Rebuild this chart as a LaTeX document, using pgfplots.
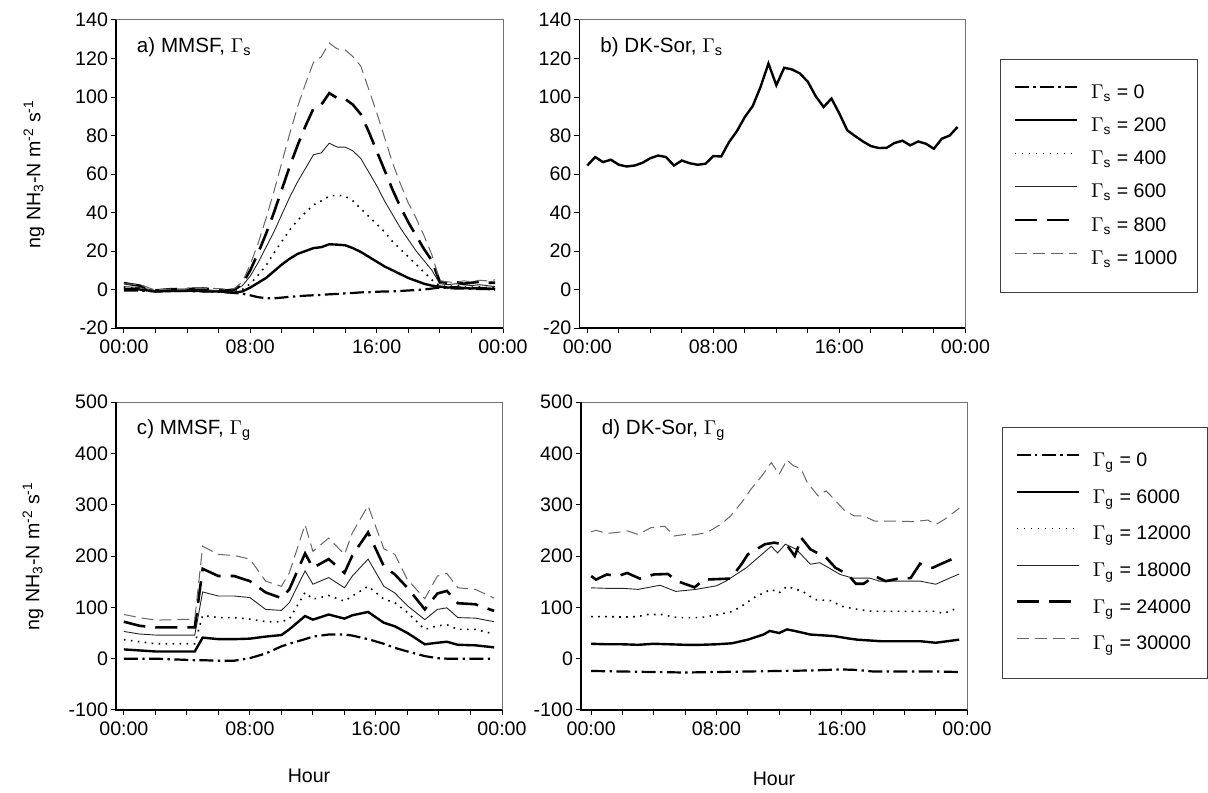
\documentclass[border=0pt]{standalone}
\usepackage{fontspec}
\setmainfont{Liberation Sans}
\usepackage{pgfplots}
\pgfplotsset{compat=1.18}
\usepackage{pgfplotstable}

% panel a: MMSF, Gamma_s
\pgfplotstableread{
t     s0    s200  s400  s600  s800  s1000
0     -0.5  0.3   1.2   1.5   3.3   3.0
1     -0.5  0.0   0.5   1.0   2.0   2.5
2     -1.0  -1.0  -0.8  -0.5  -0.5  -0.3
3     -0.8  -0.8  -0.5  -0.3  0.2   0.3
4     -0.8  -0.6  -0.4  -0.2  0.3   0.4
5     -1.0  -0.8  -0.5  -0.2  0.5   0.6
6     -1.2  -1.0  -0.8  -0.5  0.0   0.5
6.5   -1.5  -1.3  -1.2  -1.0  -0.5  0.0
7     -1.8  -1.6  -1.2  -0.5  0.0   0.5
7.5   -2.2  -1.0  0.0   2.0   3.0   4.0
8     -3.0  1.0   3.0   7.0   10    13
8.5   -4.0  3.5   7.5   14    19    24
9     -4.5  6.0   12.5  22    29    37
9.5   -4.6  9.5   19    30    40    51
10    -4.2  13    25    39    52    66
10.5  -3.8  16    31    48    64    81
11    -3.5  18.5  36    56    75    95
11.5  -3.2  20    40    63    85    107
12    -3.0  21.5  44    70    94    118
12.5  -2.8  22    46    71    96    121
13    -2.5  23.5  48.5  76    102   128
13.5  -2.3  23.3  49    74    99.5  125
14    -2.0  23    48.5  74    99    124.5
14.5  -1.8  21.5  46    72    96    121
15    -1.5  19.5  42    68    91    116
15.5  -1.4  17    38    61    82    104
16    -1.2  14.5  34    54    72    92
16.5  -1.0  12    30    46    62    79
17    -1.0  10    25    39    52    66
17.5  -0.8  8     21    32    43    55
18    -0.5  6     17    26    35    45
18.5  -0.3  4.5   13    20    28    37
19    0.0   3     9     15    21    28
19.5  0.5   2     5     10    15    18
20    1.0   1.5   2     3     4     4.5
20.5  0.8   1.0   1.5   2.5   3.5   4.0
21    0.5   1.2   2.0   3.0   4.0   3.5
21.5  0.5   0.8   1.5   2.5   3.0   4.5
22    0.3   0.5   1.2   2.0   3.5   4.0
22.5  0.3   0.8   1.5   2.5   4.0   4.8
23    0.2   0.5   1.0   2.0   3.5   4.5
23.5  0.0   0.3   1.0   1.5   3.5   5.0
}\tabA

% panel b: DK-Sor, Gamma_s
\pgfplotstableread{
t     f
0     64.4
0.5   68.8
1     66.2
1.5   67.4
2     64.8
2.5   63.9
3     64.4
3.5   65.8
4     68.2
4.5   69.6
5     68.8
5.5   64.4
6     67.0
6.5   65.6
7     64.8
7.5   65.3
8     69.3
8.5   69.1
9     76.6
9.5   82.3
10    89.6
10.5  95.3
11    105.3
11.5  117.4
12    106.1
12.5  115.2
13    114.3
13.5  112.2
14    107.9
14.5  100.4
15    94.8
15.5  99.2
16    91.4
16.5  82.7
17    79.7
17.5  76.9
18    74.5
18.5  73.5
19    73.6
19.5  76.1
20    77.3
20.5  74.9
21    76.9
21.5  75.7
22    73.1
22.5  78.3
23    80.0
23.5  84.4
}\tabB

% panel c: MMSF, Gamma_g
\pgfplotstableread{
t     g0   g6   g12  g18  g24  g30
0     0    18   37   53   72   86
1     0    16   33   48   64   80
2     0    14   29   46   61   75
4.5   -3   14   29   46   61   77
5     -3   41   84   130  175  219
6     -4   38   80   122  161  203
7     -4   38   80   122  161  201
8     1    39   77   119  151  194
9     10   43   72   96   129  151
10    24   46   72   94   118  141
10.5  29   57   77   109  135  167
11.5  38   83   129  171  205  261
12    43   76   116  145  177  209
13    47   86   123  158  194  235
14    47   78   112  138  167  203
14.5  45   84.5 122  161  201  245
15.5  38   91   141  194  246  298
16.5  29   70   116  141  180  214
17.2  21   63   109  128  164  203
18    14   50   90   103  138  154
19.1  5    28   57   76   96   117
19.9  1    31   64   96   127  161
20.5  0    33   66   99   132  166
21.2  0    27   57   80   108  138
22.3  0    26   57   79   106  135
23.5  0    22   48   72   93   118
}\tabC

\tikzset{
  g0/.style={black, line width=1.1pt, dash pattern=on 7pt off 2.2pt on 1.2pt off 2.2pt},
  g1/.style={black, line width=1.2pt},
  g2/.style={black, line width=0.8pt, dash pattern=on 0.8pt off 2.7pt},
  g3/.style={black!85, line width=0.45pt},
  g4/.style={black, line width=1.3pt, dash pattern=on 11pt off 5pt},
  g5/.style={black!60, line width=0.5pt, dash pattern=on 6pt off 3pt},
}

\pgfplotsset{
  panel/.style={
    scale only axis, width=193.5pt, height=154pt,
    xmin=-0.5, xmax=24,
    xtick={0,2,...,24},
    xticklabels={00:00,,,,08:00,,,,16:00,,,,00:00},
    tick align=outside, xtick pos=bottom, ytick pos=left,
    major tick length=2.5pt,
    tick style={black, line width=0.5pt},
    axis line style={black!55, line width=0.5pt},
    /pgf/number format/assume math mode=true,
    tick label style={font=\fontsize{9.8}{11}\selectfont},
    yticklabel style={xshift=2pt},
    label style={font=\fontsize{9.8}{11}\selectfont},
    no markers,
    legend cell align=left,
    legend image code/.code={\draw[##1] (0pt,3pt) -- (31pt,3pt);},
    extra description/.code={
      \draw[black, line width=0.6pt] (axis description cs:0,1) -- (axis description cs:0,0) -- (axis description cs:1,0);},
  },
  lgd/.style={
    anchor=north west, draw=black!75, line width=0.5pt, fill=white,
    inner xsep=6.5pt, row sep=0pt,
    font=\fontsize{9.8}{11}\selectfont,
    nodes={inner xsep=6.5pt, inner ysep=0pt},
  },
}

\newcommand{\ttl}[1]{\node[anchor=base west, font=\fontsize{10.3}{12}\selectfont] at (rel axis cs:0.036,0.895) {#1};}
\newcommand{\ylab}{ng NH\textsubscript{3}-N m\textsuperscript{-2} s\textsuperscript{-1}}

\begin{document}
\begin{tikzpicture}[font=\fontsize{9.8}{11}\selectfont]
\path[use as bounding box] (0,0) rectangle (604pt,-396pt);

% a)
\begin{axis}[panel, at={(58pt,-10pt)}, anchor=north west,
  ymin=-20, ymax=140, ytick={-20,0,...,140},
  ylabel={\ylab},
  ylabel style={at={(axis description cs:-0.212,0.5)}, anchor=center},
  legend style={lgd, at={(axis description cs:2.284,0.873)}, inner ysep=8.4pt,
    nodes={minimum height=16.6pt}},
]
\addplot[g0] table[x=t, y=s0] {\tabA};
\addplot[g1] table[x=t, y=s200] {\tabA};
\addplot[g2] table[x=t, y=s400] {\tabA};
\addplot[g3] table[x=t, y=s600] {\tabA};
\addplot[g4] table[x=t, y=s800] {\tabA};
\addplot[g5] table[x=t, y=s1000] {\tabA};
\legend{\makebox[40pt][l]{$\Gamma$\textsubscript{s} = 0},
        \makebox[40pt][l]{$\Gamma$\textsubscript{s} = 200},
        \makebox[40pt][l]{$\Gamma$\textsubscript{s} = 400},
        \makebox[40pt][l]{$\Gamma$\textsubscript{s} = 600},
        \makebox[40pt][l]{$\Gamma$\textsubscript{s} = 800},
        \makebox[40pt][l]{$\Gamma$\textsubscript{s} = 1000}}
\ttl{a) MMSF, $\Gamma$\textsubscript{s}}
\end{axis}

% b)
\begin{axis}[panel, at={(289.7pt,-10pt)}, anchor=north west, width=193pt,
  ymin=-20, ymax=140, ytick={-20,0,...,140},
]
\addplot[g1] table[x=t, y=f] {\tabB};
\ttl{b) DK-Sor, $\Gamma$\textsubscript{s}}
\end{axis}

% c)
\begin{axis}[panel, at={(58pt,-201pt)}, anchor=north west, width=193pt,
  ymin=-100, ymax=500, ytick={-100,0,...,500},
  ylabel={\ylab},
  ylabel style={at={(axis description cs:-0.215,0.5)}, anchor=center},
  xlabel={Hour},
  xlabel style={at={(axis description cs:0.5,-0.214)}, anchor=center},
  legend style={lgd, at={(axis description cs:2.295,0.919)}, inner ysep=7.8pt,
    nodes={minimum height=18.3pt}},
]
\addplot[g0] table[x=t, y=g0] {\tabC};
\addplot[g1] table[x=t, y=g6] {\tabC};
\addplot[g2] table[x=t, y=g12] {\tabC};
\addplot[g3] table[x=t, y=g18] {\tabC};
\addplot[g4] table[x=t, y=g24] {\tabC};
\addplot[g5] table[x=t, y=g30] {\tabC};
\legend{\makebox[44.5pt][l]{$\Gamma$\textsubscript{g} = 0},
        \makebox[44.5pt][l]{$\Gamma$\textsubscript{g} = 6000},
        \makebox[44.5pt][l]{$\Gamma$\textsubscript{g} = 12000},
        \makebox[44.5pt][l]{$\Gamma$\textsubscript{g} = 18000},
        \makebox[44.5pt][l]{$\Gamma$\textsubscript{g} = 24000},
        \makebox[44.5pt][l]{$\Gamma$\textsubscript{g} = 30000}}
\ttl{c) MMSF, $\Gamma$\textsubscript{g}}
\end{axis}

% d)
\begin{axis}[panel, at={(290.5pt,-201pt)}, anchor=north west, width=193pt,
  xmin=-0.65,
  ymin=-100, ymax=500, ytick={-100,0,...,500},
  xlabel={Hour},
  xlabel style={at={(axis description cs:0.5,-0.225)}, anchor=center},
]
\addplot[g0] coordinates {(0,-24) (2,-25) (4,-26) (6,-27) (8,-26) (10,-25) (12,-24) (14,-23) (16,-21) (17,-22) (18,-25) (20,-25) (22,-25) (23.5,-26)};
\addplot[g1] coordinates {(0,29) (1,28) (2,28) (3,27) (4,29) (5,28) (6,27) (7,27) (8,28) (9,30) (10,37) (11,47) (11.4,54) (12,50) (12.5,57) (13,54) (14,47) (15,45) (15.5,44) (16.5,39) (17,37) (18.5,34) (20,34) (21,34) (22,31) (23.5,37)};
\addplot[g2] coordinates {(0,82) (1,82) (2,81) (3,82) (3.5,86) (4.5,86) (5.5,80) (7,80) (8,85) (9,92) (9.5,100) (10.5,121) (11.5,135) (12,128) (12.5,141) (13.5,131) (14.3,115) (15.3,113) (16,102) (17,96) (18,92) (19,92) (20,92) (21,92) (22,92) (22.5,88) (23.5,100)};
\addplot[g3] coordinates {(0,138) (1,137) (2,137) (3,135) (4.4,143) (5.4,131) (6.7,135) (8,142) (8.6,151) (9.9,177) (11.5,219) (11.9,206) (12.4,223) (13.1,213) (14,184) (14.6,187) (15,180) (15.9,164) (16.7,157) (17.8,157) (18.4,151) (19.9,151) (21,151) (22,145) (23.5,165)};
\addplot[g4] coordinates {(0,161) (0.3,154) (1,164) (1.7,161) (2.3,167) (3.1,156) (4,164) (4.9,165) (5.5,151) (6.6,139) (7.2,154) (8.9,156) (9.6,184) (10,203) (11.1,223) (11.7,226) (12.5,221) (13,200) (13.2,216) (13.4,236) (14,213) (15,197) (15.6,177) (16.4,164) (16.9,146) (17.4,146) (18.1,161) (18.8,151) (19.8,157) (20.4,157) (21,185) (21.8,177) (22.3,184) (23.5,200)};
\addplot[g5] coordinates {(0,247) (0.3,250) (1,244) (1.7,246) (2.3,249) (3,242) (3.8,255) (4.7,258) (5.3,239) (6,242) (6.6,241) (7.4,246) (8.3,262) (8.9,278) (9.6,304) (10.2,330) (10.9,356) (11.5,382) (12,359) (12.5,387) (12.9,376) (13.4,370) (13.8,343) (14.5,317) (15,327) (15.5,311) (16.2,288) (16.8,278) (17.4,278) (18.1,268) (19.4,268) (20.6,267) (21.5,270) (22,261) (22.6,272) (23.5,293)};
\ttl{d) DK-Sor, $\Gamma$\textsubscript{g}}
\end{axis}
\end{tikzpicture}
\end{document}
